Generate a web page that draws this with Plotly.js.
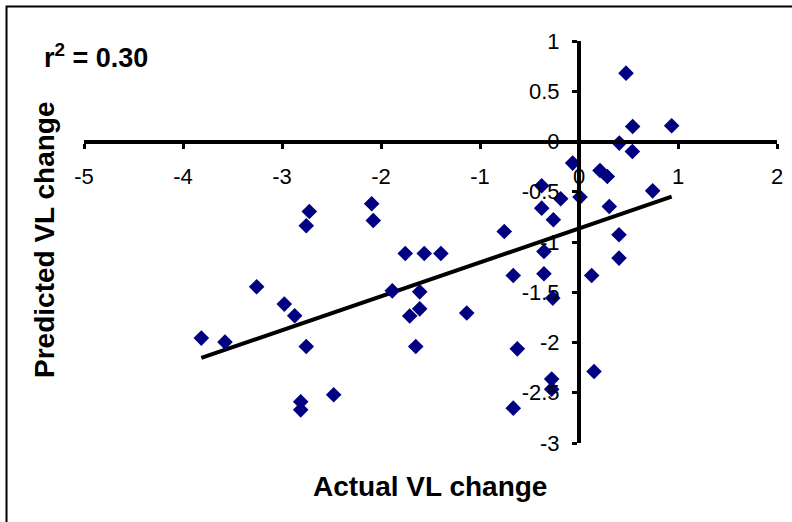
<!DOCTYPE html>
<html>
<head>
<meta charset="utf-8">
<script src="https://cdn.plot.ly/plotly-3.0.1.min.js"></script>
<style>
  html, body { margin: 0; padding: 0; background: #ffffff; }
  #chart { width: 792px; height: 522px; }
</style>
</head>
<body>
<div id="chart"></div>
<script>
// Actual VL change (x) and predicted VL change (y)
const actualVL = [
  -3.815, -3.576, -3.256, -2.977, -2.872, -2.755, -2.724, -2.755, -2.811, -2.811,
  -2.478, -2.094, -2.078, -1.755, -1.563, -1.395, -1.886, -1.609, -1.609, -1.710,
  -1.649, -1.134, -0.755, -0.664, -0.623, -0.664, -0.377, -0.377, -0.354, -0.354,
  -0.265, -0.276, -0.276, -0.259, -0.185, -0.064, 0.010, 0.128, 0.152, 0.212,
  0.286, 0.306, 0.404, 0.404, 0.407, 0.475, 0.539, 0.542, 0.744, 0.936
];
const predictedVL = [
  -1.956, -1.996, -1.446, -1.618, -1.734, -2.040, -0.697, -0.839, -2.590, -2.670,
  -2.520, -0.620, -0.786, -1.114, -1.114, -1.114, -1.486, -1.496, -1.665, -1.737,
  -2.040, -1.707, -0.896, -1.333, -2.063, -2.653, -0.441, -0.663, -1.095, -1.316,
  -1.558, -2.364, -2.464, -0.779, -0.570, -0.215, -0.553, -1.333, -2.289, -0.289,
  -0.348, -0.647, -0.928, -1.160, -0.016, 0.680, -0.099, 0.149, -0.491, 0.156
];

const xTickVals = [-5, -4, -3, -2, -1, 0, 1, 2];
const xTickText = ["-5", "-4", "-3", "-2", "-1", "0", "1", "2"];
const yTickVals = [1, 0.5, 0, -0.5, -1, -1.5, -2, -2.5, -3];
const yTickText = ["1", "0.5", "0", "-0.5", "-1", "-1.5", "-2", "-2.5", "-3"];

const xTitle = "Actual VL change";
const yTitle = "Predicted VL change";
const r2Label = "r<sup>2</sup> = 0.30";

// Least-squares linear trend line (spans the data's x range, like a spreadsheet trendline)
const n = actualVL.length;
const mx = actualVL.reduce((a, b) => a + b, 0) / n;
const my = predictedVL.reduce((a, b) => a + b, 0) / n;
let sxy = 0, sxx = 0;
for (let i = 0; i < n; i++) {
  sxy += (actualVL[i] - mx) * (predictedVL[i] - my);
  sxx += (actualVL[i] - mx) * (actualVL[i] - mx);
}
const slope = sxy / sxx;
const intercept = my - slope * mx;
const xMin = Math.min(...actualVL), xMax = Math.max(...actualVL);
const trendX = [xMin, xMax];
const trendY = trendX.map(v => intercept + slope * v);

const FONT = "Liberation Sans, Arial, sans-serif";

const traces = [
  {
    x: trendX, y: trendY, type: "scatter", mode: "lines",
    line: { color: "#000000", width: 4 }, hoverinfo: "skip", showlegend: false
  },
  {
    x: actualVL, y: predictedVL, type: "scatter", mode: "markers",
    marker: { symbol: "diamond", size: 12, color: "#000080", line: { width: 0 } },
    showlegend: false
  }
];

const layout = {
  width: 792, height: 522,
  margin: { l: 84, r: 15, t: 41, b: 79 },
  paper_bgcolor: "#ffffff", plot_bgcolor: "#ffffff",
  showlegend: false,
  font: { family: FONT, color: "#000000" },
  xaxis: {
    range: [-5, 2], tickvals: xTickVals, ticktext: xTickText,
    anchor: "free", position: 0.75,
    showline: true, linecolor: "#000000", linewidth: 4,
    ticks: "outside", ticklen: 5, tickwidth: 3, tickcolor: "#000000",
    showgrid: false, zeroline: false,
    tickfont: { family: FONT, size: 22, color: "#000000" },
    ticklabelstandoff: 9
  },
  yaxis: {
    range: [-3, 1], tickvals: yTickVals, ticktext: yTickText,
    anchor: "free", position: 5 / 7,
    showline: true, linecolor: "#000000", linewidth: 4,
    ticks: "outside", ticklen: 5, tickwidth: 3, tickcolor: "#000000",
    showgrid: false, zeroline: false,
    tickfont: { family: FONT, size: 22, color: "#000000" },
    ticklabelstandoff: 8
  },
  annotations: [
    {
      text: "<b>" + xTitle + "</b>", xref: "paper", yref: "paper",
      x: 0.4993, y: -0.107, xanchor: "center", yanchor: "middle",
      showarrow: false, font: { family: FONT, size: 28, color: "#000000" }
    },
    {
      text: "<b>" + yTitle + "</b>", xref: "paper", yref: "paper",
      x: -0.0563, y: 0.505, xanchor: "center", yanchor: "middle", textangle: -90,
      showarrow: false, font: { family: FONT, size: 28, color: "#000000" }
    },
    {
      text: "<b>" + r2Label + "</b>", xref: "paper", yref: "paper",
      x: -0.0606, y: 0.962, xanchor: "left", yanchor: "middle",
      showarrow: false, font: { family: FONT, size: 27, color: "#000000" }
    }
  ],
  shapes: [
    {
      type: "rect", xref: "paper", yref: "paper",
      x0: -0.1118, x1: 1.2, y0: -0.5, y1: 1.0858,
      line: { color: "#000000", width: 2 }, fillcolor: "rgba(0,0,0,0)", layer: "below"
    }
  ]
};

Plotly.newPlot("chart", traces, layout, { displayModeBar: false, staticPlot: true });
</script>
</body>
</html>
